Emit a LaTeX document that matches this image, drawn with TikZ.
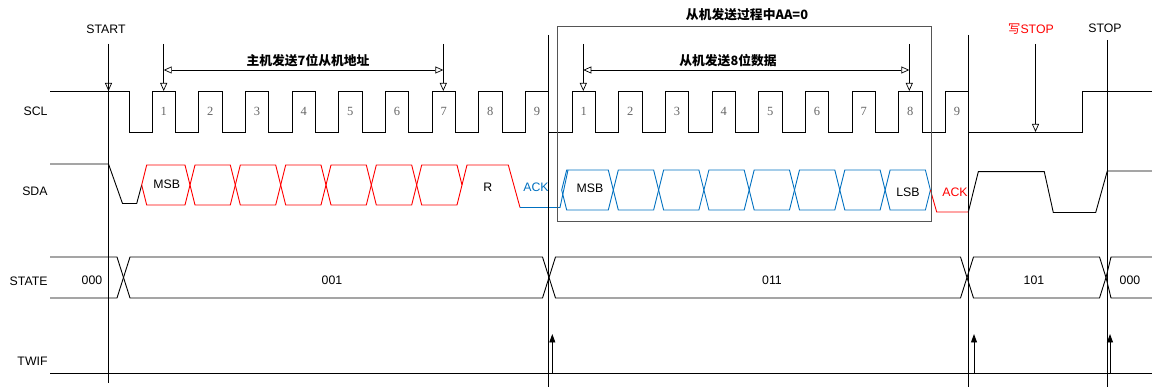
\documentclass[tikz,border=0pt]{standalone}
\usepackage{fontspec}
\setmainfont{Liberation Sans}
\newfontfamily\cjk{Noto Sans CJK SC}
\newfontfamily\serifnum{Liberation Serif}
\usetikzlibrary{arrows.meta}
\definecolor{sigred}{HTML}{FF0000}
\definecolor{sigblue}{HTML}{0070C0}
\definecolor{numgray}{HTML}{666666}
\definecolor{boxgray}{HTML}{555555}
\tikzset{
  pointer/.style={-{Triangle[open,length=8pt,width=7pt]}, line width=0.7pt},
  span/.style={{Triangle[open,length=8pt,width=7pt]}-{Triangle[open,length=8pt,width=7pt]}, line width=0.7pt},
  flag/.style={-{Triangle[length=8.5pt,width=6pt]}, line width=0.9pt},
  title/.style={font=\cjk\bfseries\fontsize{12.8}{15}\selectfont},
  sig/.style={anchor=east}
}
\begin{document}
\begin{tikzpicture}[x=1pt, y=-1pt, line width=0.9pt,
    every node/.style={inner sep=0pt, font=\fontsize{12.3}{14}\selectfont}]
  \useasboundingbox (0,0) rectangle (1152,387);

  \node[sig] (scl) at (48,111) {SCL};
  \node[sig] (sda) at (48,191) {SDA};
  \node[sig] (state) at (48,281) {STATE};
  \node[sig] (twif) at (48,361) {TWIF};

  \draw (50,91) -- (129,91) -- (129,132)
    \foreach \k in {0,...,17} {
      -- ({152+46.667*\k},132) -- ({152+46.667*\k},91)
      -- ({175.333+46.667*\k},91) -- ({175.333+46.667*\k},132)}
    -- (1082.3,132) -- (1082.3,91) -- (1152,91);
  \foreach \k in {0,...,17} {
    \pgfmathtruncatemacro\num{mod(\k,9)+1}
    \node[text=numgray, font=\serifnum\fontsize{12.5}{14}\selectfont] (n\k) at ({163.67+46.667*\k},111) {\num};
  }

  \draw (50,164) -- (108.5,164) -- (122.5,203.5) -- (136.7,203.5) -- (141.7,185);
  \foreach \a/\b in {141.7/190, 190/235.3, 235.3/280.7, 280.7/326, 326/371.3, 371.3/416.7, 416.7/462}
    \draw[sigred] (\a,185) -- ({\a+5},165) -- ({\b-5},165) -- (\b,185) -- ({\b-5},205) -- ({\a+5},205) -- cycle;
  \draw[sigred] (462,185) -- (467,165) -- (508.3,165) -- (520,207.5);
  \draw[sigblue] (520,207.5) -- (560,207.5) -- (568,170);
  \foreach \a/\b in {561.7/613.3, 613.3/658.6, 658.6/703.9, 703.9/749.2, 749.2/794.5, 794.5/839.8, 839.8/885.1, 885.1/930.4}
    \draw[sigblue] (\a,190) -- ({\a+5},170) -- ({\b-5},170) -- (\b,190) -- ({\b-5},210) -- ({\a+5},210) -- cycle;
  \draw[sigred] (930.4,190) -- (936.7,212) -- (968.3,212);
  \draw (968.3,212) -- (978.3,171.7) -- (1044.3,171.7) -- (1053.3,212.5) -- (1095.7,212.5) -- (1107.3,171) -- (1152,171);

  \node (msb1) at (166.7,184) {MSB};
  \node (rbit) at (487.7,187) {R};
  \node[text=sigblue] (ack1) at (536,187) {ACK};
  \node (msb2) at (590,188) {MSB};
  \node (lsb) at (908,192) {LSB};
  \node[text=sigred] (ack2) at (955,192) {ACK};

  \draw (50,257) -- (117,257) -- (123.5,277.5) -- (117,298) -- (50,298);
  \foreach \a/\b in {123.5/549, 549/967, 967/1106}
    \draw (\a,277.5) -- ({\a+6.5},257) -- ({\b-6.5},257) -- (\b,277.5) -- ({\b-6.5},298) -- ({\a+6.5},298) -- cycle;
  \draw (1152,257) -- (1111,257) -- (1106,277.5) -- (1111,298) -- (1152,298);
  \node (s0) at (92,280) {000};
  \node (s1) at (332,280) {001};
  \node (s3) at (772,280) {011};
  \node (s5) at (1034,280) {101};
  \node (s0b) at (1130,280) {000};

  \draw (50,373) -- (1152,373);

  \draw[boxgray] (557.3,26) rectangle (931,221.5);
  \node[title] (aa) at (747,15) {从机发送过程中AA=0};

  \node (start) at (106,29.3) {START};
  \node[text=sigred] (wstop) at (1031,29.3) {{\cjk 写}STOP};
  \node (stop) at (1105,28.3) {STOP};

  \coordinate (startTop) at (108.5,44);
  \coordinate (startTip) at (108.5,91);
  \coordinate (startEnd) at (108.5,383);
  \coordinate (ackTop) at (548.3,35);
  \coordinate (ackEnd) at (548.3,387);
  \coordinate (nackTop) at (968,35);
  \coordinate (nackEnd) at (968,387);
  \coordinate (stopTop) at (1107.7,40);
  \coordinate (stopEnd) at (1107.7,387);
  \draw (startTop) -- (startEnd);
  \draw (ackTop) -- (ackEnd);
  \draw (nackTop) -- (nackEnd);
  \draw (stopTop) -- (stopEnd);
  \draw[pointer] (startTop) -- (startTip);

  \coordinate (a1Top) at (163.7,44);
  \coordinate (a1Tip) at (163.7,91);
  \coordinate (a7Top) at (443.3,44);
  \coordinate (a7Tip) at (443.3,91);
  \coordinate (d1Top) at (583.3,44);
  \coordinate (d1Tip) at (583.3,91);
  \coordinate (d8Top) at (909.3,44);
  \coordinate (d8Tip) at (909.3,91);
  \coordinate (wTop) at (1035.5,44);
  \coordinate (wTip) at (1035.5,132);
  \draw[pointer] (a1Top) -- (a1Tip);
  \draw[pointer] (a7Top) -- (a7Tip);
  \draw[pointer] (d1Top) -- (d1Tip);
  \draw[pointer] (d8Top) -- (d8Tip);
  \draw[pointer] (wTop) -- (wTip);

  \coordinate (addrL) at (163.7,70);
  \coordinate (addrR) at (443.3,70);
  \coordinate (dataL) at (583.3,70);
  \coordinate (dataR) at (909.3,70);
  \draw[span] (addrL) -- (addrR);
  \draw[span] (dataL) -- (dataR);
  \node[title] (addr) at (308,61) {主机发送7位从机地址};
  \node[title] (data) at (728,61) {从机发送8位数据};

  \foreach \x/\n in {552.3/f1, 974/f2, 1110/f3} {
    \coordinate (\n b) at (\x,373);
    \coordinate (\n t) at (\x,334);
    \draw[flag] (\n b) -- (\n t);
  }
\end{tikzpicture}
\end{document}
